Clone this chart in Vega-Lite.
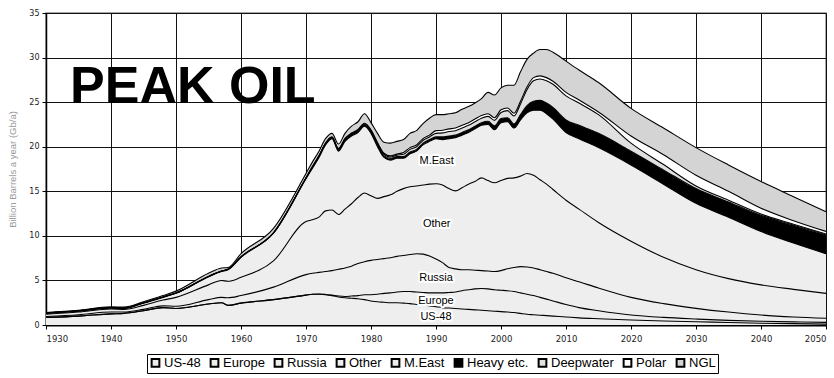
{
  "$schema": "https://vega.github.io/schema/vega-lite/v6.json",
  "width": 780,
  "height": 312,
  "autosize": {"type": "none"},
  "padding": {"left": 46, "top": 13, "right": 8, "bottom": 53},
  "background": "white",
  "config": {
    "view": {"stroke": "#8a8a8a", "strokeWidth": 1.5},
    "axis": {
      "gridColor": "#111111",
      "gridWidth": 1,
      "gridOpacity": 1,
      "domainColor": "#000000",
      "domainWidth": 1.5,
      "tickColor": "#000000",
      "tickSize": 4,
      "labelFont": "DejaVu Sans",
      "labelColor": "#222222"
    }
  },
  "layer": [
    {
      "data": {
        "values": [
          {"year": 1930, "us48": 0.85, "europe": 0, "russia": 0.1, "other": 0.25, "meast": 0.1, "heavy": 0.05, "deep": 0, "polar": 0, "ngl": 0.05},
          {"year": 1935, "us48": 1.0, "europe": 0, "russia": 0.15, "other": 0.3, "meast": 0.1, "heavy": 0.05, "deep": 0, "polar": 0, "ngl": 0.05},
          {"year": 1940, "us48": 1.25, "europe": 0, "russia": 0.2, "other": 0.35, "meast": 0.1, "heavy": 0.05, "deep": 0, "polar": 0, "ngl": 0.1},
          {"year": 1942, "us48": 1.3, "europe": 0, "russia": 0.15, "other": 0.3, "meast": 0.1, "heavy": 0.05, "deep": 0, "polar": 0, "ngl": 0.1},
          {"year": 1945, "us48": 1.6, "europe": 0, "russia": 0.15, "other": 0.45, "meast": 0.25, "heavy": 0.05, "deep": 0, "polar": 0, "ngl": 0.1},
          {"year": 1948, "us48": 1.95, "europe": 0, "russia": 0.2, "other": 0.65, "meast": 0.3, "heavy": 0.05, "deep": 0, "polar": 0, "ngl": 0.15},
          {"year": 1950, "us48": 1.85, "europe": 0, "russia": 0.25, "other": 1.0, "meast": 0.45, "heavy": 0.05, "deep": 0, "polar": 0, "ngl": 0.2},
          {"year": 1955, "us48": 2.35, "europe": 0, "russia": 0.5, "other": 1.65, "meast": 0.9, "heavy": 0.05, "deep": 0, "polar": 0, "ngl": 0.35},
          {"year": 1957, "us48": 2.5, "europe": 0, "russia": 0.6, "other": 1.9, "meast": 1.0, "heavy": 0.05, "deep": 0, "polar": 0, "ngl": 0.35},
          {"year": 1958, "us48": 2.2, "europe": 0, "russia": 0.85, "other": 1.85, "meast": 1.3, "heavy": 0.05, "deep": 0, "polar": 0, "ngl": 0.2},
          {"year": 1960, "us48": 2.45, "europe": 0, "russia": 0.85, "other": 2.05, "meast": 2.25, "heavy": 0.05, "deep": 0, "polar": 0, "ngl": 0.35},
          {"year": 1965, "us48": 2.85, "europe": 0, "russia": 1.4, "other": 2.95, "meast": 3.1, "heavy": 0.05, "deep": 0, "polar": 0, "ngl": 0.5},
          {"year": 1970, "us48": 3.35, "europe": 0, "russia": 2.3, "other": 5.95, "meast": 4.8, "heavy": 0.1, "deep": 0, "polar": 0.02, "ngl": 0.48},
          {"year": 1971, "us48": 3.45, "europe": 0, "russia": 2.35, "other": 6.0, "meast": 5.8, "heavy": 0.15, "deep": 0, "polar": 0.05, "ngl": 0.5},
          {"year": 1972, "us48": 3.45, "europe": 0.02, "russia": 2.43, "other": 6.2, "meast": 6.7, "heavy": 0.15, "deep": 0, "polar": 0.05, "ngl": 0.5},
          {"year": 1973, "us48": 3.4, "europe": 0.03, "russia": 2.57, "other": 6.8, "meast": 7.4, "heavy": 0.15, "deep": 0, "polar": 0.05, "ngl": 0.5},
          {"year": 1974, "us48": 3.3, "europe": 0.05, "russia": 2.75, "other": 6.8, "meast": 8.0, "heavy": 0.15, "deep": 0, "polar": 0.05, "ngl": 0.4},
          {"year": 1975, "us48": 3.15, "europe": 0.1, "russia": 3.0, "other": 6.15, "meast": 7.1, "heavy": 0.2, "deep": 0.05, "polar": 0.05, "ngl": 0.5},
          {"year": 1976, "us48": 3.05, "europe": 0.15, "russia": 3.2, "other": 6.6, "meast": 7.6, "heavy": 0.2, "deep": 0.08, "polar": 0.05, "ngl": 0.57},
          {"year": 1977, "us48": 3.0, "europe": 0.25, "russia": 3.35, "other": 7.0, "meast": 7.6, "heavy": 0.2, "deep": 0.08, "polar": 0.05, "ngl": 0.77},
          {"year": 1978, "us48": 2.95, "europe": 0.35, "russia": 3.6, "other": 7.4, "meast": 7.3, "heavy": 0.2, "deep": 0.08, "polar": 0.05, "ngl": 0.87},
          {"year": 1979, "us48": 2.85, "europe": 0.55, "russia": 3.7, "other": 7.7, "meast": 7.5, "heavy": 0.2, "deep": 0.08, "polar": 0.05, "ngl": 1.07},
          {"year": 1980, "us48": 2.7, "europe": 0.7, "russia": 3.85, "other": 7.25, "meast": 7.0, "heavy": 0.2, "deep": 0.1, "polar": 0.1, "ngl": 0.8},
          {"year": 1981, "us48": 2.6, "europe": 0.85, "russia": 3.9, "other": 6.85, "meast": 5.8, "heavy": 0.2, "deep": 0.15, "polar": 0.12, "ngl": 1.03},
          {"year": 1982, "us48": 2.55, "europe": 1.0, "russia": 3.9, "other": 6.95, "meast": 4.4, "heavy": 0.2, "deep": 0.15, "polar": 0.12, "ngl": 1.23},
          {"year": 1983, "us48": 2.5, "europe": 1.1, "russia": 3.95, "other": 7.05, "meast": 3.9, "heavy": 0.2, "deep": 0.15, "polar": 0.12, "ngl": 1.43},
          {"year": 1984, "us48": 2.5, "europe": 1.2, "russia": 4.0, "other": 7.3, "meast": 3.7, "heavy": 0.2, "deep": 0.15, "polar": 0.12, "ngl": 1.43},
          {"year": 1985, "us48": 2.45, "europe": 1.3, "russia": 4.05, "other": 7.5, "meast": 3.4, "heavy": 0.2, "deep": 0.25, "polar": 0.2, "ngl": 1.45},
          {"year": 1986, "us48": 2.4, "europe": 1.35, "russia": 4.15, "other": 7.6, "meast": 3.7, "heavy": 0.2, "deep": 0.3, "polar": 0.2, "ngl": 1.6},
          {"year": 1987, "us48": 2.3, "europe": 1.4, "russia": 4.3, "other": 7.6, "meast": 3.9, "heavy": 0.2, "deep": 0.3, "polar": 0.2, "ngl": 1.6},
          {"year": 1988, "us48": 2.25, "europe": 1.4, "russia": 4.3, "other": 7.75, "meast": 4.5, "heavy": 0.2, "deep": 0.3, "polar": 0.2, "ngl": 1.7},
          {"year": 1989, "us48": 2.15, "europe": 1.45, "russia": 4.15, "other": 8.05, "meast": 4.8, "heavy": 0.2, "deep": 0.3, "polar": 0.2, "ngl": 1.9},
          {"year": 1990, "us48": 2.05, "europe": 1.55, "russia": 3.8, "other": 8.45, "meast": 5.05, "heavy": 0.2, "deep": 0.4, "polar": 0.3, "ngl": 1.8},
          {"year": 1991, "us48": 1.95, "europe": 1.65, "russia": 3.4, "other": 8.7, "meast": 5.1, "heavy": 0.3, "deep": 0.45, "polar": 0.3, "ngl": 1.75},
          {"year": 1992, "us48": 1.9, "europe": 1.75, "russia": 2.8, "other": 8.85, "meast": 5.6, "heavy": 0.3, "deep": 0.5, "polar": 0.3, "ngl": 1.7},
          {"year": 1993, "us48": 1.85, "europe": 1.85, "russia": 2.6, "other": 8.75, "meast": 5.95, "heavy": 0.3, "deep": 0.5, "polar": 0.3, "ngl": 1.7},
          {"year": 1994, "us48": 1.8, "europe": 2.05, "russia": 2.35, "other": 9.2, "meast": 5.9, "heavy": 0.3, "deep": 0.5, "polar": 0.3, "ngl": 1.8},
          {"year": 1995, "us48": 1.75, "europe": 2.2, "russia": 2.25, "other": 9.6, "meast": 5.8, "heavy": 0.3, "deep": 0.5, "polar": 0.3, "ngl": 1.8},
          {"year": 1996, "us48": 1.7, "europe": 2.35, "russia": 2.1, "other": 9.95, "meast": 5.9, "heavy": 0.3, "deep": 0.5, "polar": 0.3, "ngl": 1.8},
          {"year": 1997, "us48": 1.65, "europe": 2.45, "russia": 2.0, "other": 10.4, "meast": 5.9, "heavy": 0.3, "deep": 0.5, "polar": 0.3, "ngl": 1.9},
          {"year": 1998, "us48": 1.6, "europe": 2.45, "russia": 2.0, "other": 10.15, "meast": 6.3, "heavy": 0.35, "deep": 0.55, "polar": 0.3, "ngl": 2.4},
          {"year": 1999, "us48": 1.55, "europe": 2.4, "russia": 2.05, "other": 9.95, "meast": 5.95, "heavy": 0.45, "deep": 0.6, "polar": 0.3, "ngl": 2.55},
          {"year": 2000, "us48": 1.5, "europe": 2.4, "russia": 2.2, "other": 10.1, "meast": 6.5, "heavy": 0.45, "deep": 0.7, "polar": 0.3, "ngl": 2.45},
          {"year": 2001, "us48": 1.45, "europe": 2.4, "russia": 2.45, "other": 10.15, "meast": 6.35, "heavy": 0.45, "deep": 0.8, "polar": 0.3, "ngl": 2.55},
          {"year": 2002, "us48": 1.4, "europe": 2.35, "russia": 2.7, "other": 10.05, "meast": 5.6, "heavy": 0.45, "deep": 0.9, "polar": 0.3, "ngl": 3.15},
          {"year": 2003, "us48": 1.3, "europe": 2.3, "russia": 2.95, "other": 10.15, "meast": 6.3, "heavy": 0.6, "deep": 1.2, "polar": 0.3, "ngl": 3.3},
          {"year": 2004, "us48": 1.2, "europe": 2.25, "russia": 3.05, "other": 10.5, "meast": 6.8, "heavy": 0.8, "deep": 1.8, "polar": 0.3, "ngl": 3.1},
          {"year": 2005, "us48": 1.15, "europe": 2.15, "russia": 3.1, "other": 10.4, "meast": 7.3, "heavy": 1.0, "deep": 2.3, "polar": 0.35, "ngl": 2.75},
          {"year": 2006, "us48": 1.1, "europe": 2.0, "russia": 3.1, "other": 10.1, "meast": 7.8, "heavy": 1.1, "deep": 2.4, "polar": 0.35, "ngl": 2.95},
          {"year": 2007, "us48": 1.05, "europe": 1.85, "russia": 3.1, "other": 9.8, "meast": 7.9, "heavy": 1.2, "deep": 2.5, "polar": 0.35, "ngl": 3.15},
          {"year": 2008, "us48": 1.0, "europe": 1.7, "russia": 3.1, "other": 9.4, "meast": 7.9, "heavy": 1.3, "deep": 2.6, "polar": 0.35, "ngl": 3.25},
          {"year": 2010, "us48": 0.9, "europe": 1.4, "russia": 3.0, "other": 8.7, "meast": 7.6, "heavy": 1.4, "deep": 2.7, "polar": 0.4, "ngl": 3.5},
          {"year": 2012, "us48": 0.8, "europe": 1.15, "russia": 2.9, "other": 8.15, "meast": 7.9, "heavy": 1.5, "deep": 2.5, "polar": 0.35, "ngl": 3.35},
          {"year": 2015, "us48": 0.7, "europe": 0.9, "russia": 2.55, "other": 7.35, "meast": 8.4, "heavy": 1.6, "deep": 2.1, "polar": 0.3, "ngl": 3.3},
          {"year": 2020, "us48": 0.56, "europe": 0.56, "russia": 1.98, "other": 6.3, "meast": 8.55, "heavy": 1.55, "deep": 0.9, "polar": 0.8, "ngl": 3.1},
          {"year": 2025, "us48": 0.45, "europe": 0.4, "russia": 1.55, "other": 5.2, "meast": 8.2, "heavy": 1.6, "deep": 0.6, "polar": 1.1, "ngl": 3.0},
          {"year": 2030, "us48": 0.37, "europe": 0.3, "russia": 1.2, "other": 4.33, "meast": 7.45, "heavy": 1.65, "deep": 0.3, "polar": 1.2, "ngl": 3.1},
          {"year": 2035, "us48": 0.28, "europe": 0.24, "russia": 0.93, "other": 3.75, "meast": 6.9, "heavy": 1.7, "deep": 0.2, "polar": 1.0, "ngl": 2.95},
          {"year": 2040, "us48": 0.2, "europe": 0.22, "russia": 0.7, "other": 3.38, "meast": 6.0, "heavy": 1.8, "deep": 0.15, "polar": 0.65, "ngl": 3.0},
          {"year": 2045, "us48": 0.15, "europe": 0.2, "russia": 0.55, "other": 3.1, "meast": 5.2, "heavy": 2.0, "deep": 0.1, "polar": 0.4, "ngl": 2.7},
          {"year": 2050, "us48": 0.1, "europe": 0.2, "russia": 0.45, "other": 2.8, "meast": 4.45, "heavy": 2.1, "deep": 0.1, "polar": 0.3, "ngl": 2.2}
        ]
      },
      "transform": [
        {"fold": ["us48", "europe", "russia", "other", "meast", "heavy", "deep", "polar", "ngl"], "as": ["key", "value"]},
        {
          "lookup": "key",
          "from": {
            "data": {
              "values": [
                {"key": "us48", "series": "US-48", "rank": 1},
                {"key": "europe", "series": "Europe", "rank": 2},
                {"key": "russia", "series": "Russia", "rank": 3},
                {"key": "other", "series": "Other", "rank": 4},
                {"key": "meast", "series": "M.East", "rank": 5},
                {"key": "heavy", "series": "Heavy etc.", "rank": 6},
                {"key": "deep", "series": "Deepwater", "rank": 7},
                {"key": "polar", "series": "Polar", "rank": 8},
                {"key": "ngl", "series": "NGL", "rank": 9}
              ]
            },
            "key": "key",
            "fields": ["series", "rank"]
          }
        }
      ],
      "encoding": {
        "x": {
          "field": "year",
          "type": "quantitative",
          "scale": {"domain": [1930, 2050], "nice": false, "zero": false},
          "axis": {
            "title": null,
            "values": [1930, 1940, 1950, 1960, 1970, 1980, 1990, 2000, 2010, 2020, 2030, 2040, 2050],
            "format": "d",
            "labelFontSize": 8.5,
            "labelPadding": 5,
            "domainWidth": 2
          }
        },
        "y": {
          "field": "value",
          "type": "quantitative",
          "stack": "zero",
          "scale": {"domain": [0, 35], "nice": false},
          "axis": {
            "title": "Billion Barrels a year (Gb/a)",
            "titleFont": "Liberation Sans",
            "titleFontSize": 9.5,
            "titleFontWeight": "normal",
            "titleColor": "#999999",
            "titlePadding": 11,
            "values": [0, 5, 10, 15, 20, 25, 30, 35],
            "labelFontSize": 8,
            "labelPadding": 3
          }
        },
        "order": {"field": "rank", "type": "quantitative", "sort": "ascending"}
      },
      "layer": [
        {
          "mark": {"type": "area", "interpolate": "monotone", "opacity": 1},
          "encoding": {
            "color": {
              "field": "series",
              "type": "nominal",
              "scale": {
                "domain": ["US-48", "Europe", "Russia", "Other", "M.East", "Heavy etc.", "Deepwater", "Polar", "NGL"],
                "range": ["#eeeeee", "#eeeeee", "#eeeeee", "#eeeeee", "#eeeeee", "#000000", "#e0e0e0", "#ffffff", "#d4d4d4"]
              },
              "legend": {
                "title": null,
                "orient": "none",
                "legendX": 101,
                "legendY": 341,
                "direction": "horizontal",
                "symbolType": "square",
                "symbolSize": 60,
                "symbolOpacity": 1,
                "labelFont": "Liberation Sans",
                "labelFontSize": 13,
                "labelColor": "#000000",
                "labelOffset": 2,
                "columnPadding": 5,
                "strokeColor": "#000000",
                "padding": 2,
                "encode": {
                  "symbols": {
                    "update": {
                      "stroke": {"value": "#000000"},
                      "strokeWidth": {"value": 2}
                    }
                  }
                }
              }
            }
          }
        },
        {
          "mark": {"type": "line", "interpolate": "monotone", "color": "#000000", "strokeWidth": 1.1},
          "encoding": {
            "detail": {"field": "series", "type": "nominal"}
          }
        }
      ]
    },
    {
      "data": {
        "values": [
          {"label": "M.East", "year": 1990.1, "value": 18.35},
          {"label": "Other", "year": 1990.1, "value": 11.3},
          {"label": "Russia", "year": 1990, "value": 5.27},
          {"label": "Europe", "year": 1990, "value": 2.71},
          {"label": "US-48", "year": 1990, "value": 0.95}
        ]
      },
      "encoding": {
        "x": {"field": "year", "type": "quantitative"},
        "y": {"field": "value", "type": "quantitative"},
        "text": {"field": "label"}
      },
      "layer": [
        {
          "mark": {
            "type": "text",
            "font": "Liberation Sans",
            "fontSize": 11,
            "stroke": "#ffffff",
            "strokeWidth": 4,
            "strokeJoin": "round",
            "color": "#ffffff",
            "align": "center",
            "baseline": "middle"
          }
        },
        {
          "mark": {
            "type": "text",
            "font": "Liberation Sans",
            "fontSize": 11,
            "color": "#000000",
            "align": "center",
            "baseline": "middle"
          }
        }
      ]
    },
    {
      "data": {"values": [{"label": "PEAK OIL", "year": 1933.7, "value": 24.9}]},
      "mark": {
        "type": "text",
        "font": "Liberation Sans",
        "fontSize": 52,
        "fontWeight": "bold",
        "color": "#000000",
        "align": "left",
        "baseline": "alphabetic"
      },
      "encoding": {
        "x": {"field": "year", "type": "quantitative"},
        "y": {"field": "value", "type": "quantitative"},
        "text": {"field": "label"}
      }
    }
  ]
}
